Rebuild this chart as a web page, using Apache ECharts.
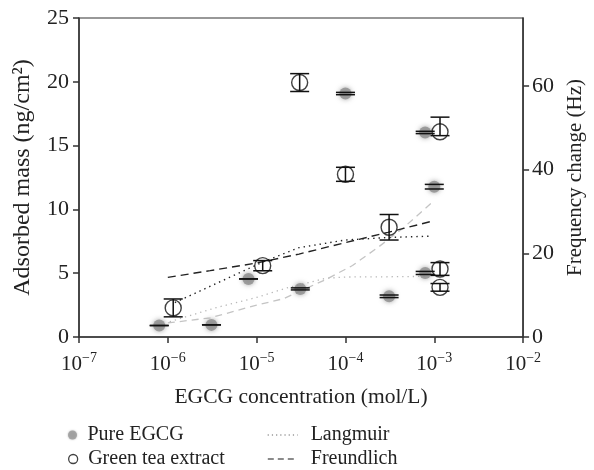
<!DOCTYPE html>
<html>
<head>
<meta charset="utf-8">
<script src="https://cdn.jsdelivr.net/npm/echarts@6/dist/echarts.min.js"></script>
<style>html,body{margin:0;padding:0;background:#fff}#c{width:594px;height:470px}</style>
</head>
<body>
<div id="c"></div>
<script>
// ---- data ----
const xTickExp = [-7, -6, -5, -4, -3, -2];
const yLeftTicks = [0, 5, 10, 15, 20, 25];
const yRightTicks = [0, 20, 40, 60];

const pureConc = [8e-7, 3.1e-6, 8.1e-6, 3.1e-5, 1e-4, 3.1e-4, 7.9e-4, 7.9e-4, 1e-3];
const pureMass = [0.9, 0.95, 4.55, 3.77, 19.08, 3.19, 16.03, 5.02, 11.78];
const pureErr  = [0, 0, 0, 0.08, 0.09, 0.1, 0.09, 0.12, 0.18];

const gtConc = [1.15e-6, 1.17e-5, 3.05e-5, 1e-4, 3.1e-4, 1.16e-3, 1.16e-3, 1.16e-3];
const gtMass = [2.28, 5.59, 19.94, 12.75, 8.6, 16.08, 5.33, 3.89];
const gtErrUp   = [0.7, 0.4, 0.7, 0.55, 1.0, 1.15, 0.5, 0.3];
const gtErrDown = [0.7, 0.4, 0.7, 0.55, 1.0, 0.3, 0.5, 0.3];

const langGtConc = [1.2e-6, 1.2e-5, 3e-5, 1e-4, 3e-4, 9e-4];
const langGtVal  = [2.7, 5.9, 7.0, 7.6, 7.8, 7.9];
const freGtConc  = [1e-6, 3e-6, 1e-5, 3e-5, 1e-4, 3e-4, 1e-3];
const freGtVal   = [4.67, 5.2, 5.8, 6.5, 7.4, 8.2, 9.12];
const langPureConc = [1.05e-6, 3.5e-6, 1e-5, 2.2e-5, 6e-5, 1e-4, 3e-4, 8e-4];
const langPureVal  = [1.2, 2.3, 3.1, 3.85, 4.6, 4.7, 4.72, 4.75];
const frePureConc  = [1e-6, 3e-6, 1e-5, 2e-5, 6e-5, 1.2e-4, 2.3e-4, 4.4e-4, 1e-3];
const frePureVal   = [1.1, 1.5, 2.5, 3.0, 4.5, 5.6, 7.0, 8.5, 10.7];

// ---- chart ----
const FONT = 'Liberation Serif';
const TXT = '#222';
const zip = (a, b) => a.map((v, i) => [v, b[i]]);

function errBar(capHalf, showStem) {
  return function (params, api) {
    const x = api.value(0), y = api.value(1), up = api.value(2), dn = api.value(3);
    const t = api.coord([x, y + up]);
    const b = api.coord([x, y - dn]);
    const st = { stroke: '#111', lineWidth: 1.5 };
    const ch = [
      { type: 'line', shape: { x1: t[0] - capHalf, y1: t[1], x2: t[0] + capHalf, y2: t[1] }, style: st },
      { type: 'line', shape: { x1: b[0] - capHalf, y1: b[1], x2: b[0] + capHalf, y2: b[1] }, style: st }
    ];
    if (showStem) ch.push({ type: 'line', shape: { x1: t[0], y1: t[1], x2: b[0], y2: b[1] }, style: st });
    return { type: 'group', children: ch };
  };
}

const legText = { fontFamily: FONT, fontSize: 20, color: TXT };
function leg(left, top, item, iw, extra) {
  return Object.assign({
    orient: 'horizontal', left: left, top: top, padding: 0,
    itemWidth: iw, itemHeight: 9, selectedMode: false,
    textStyle: legText, data: [item]
  }, extra || {});
}
const clear = { color: 'rgba(0,0,0,0)', borderColor: 'rgba(0,0,0,0)', borderWidth: 0 };

const chart = echarts.init(document.getElementById('c'), null, { renderer: 'canvas' });
chart.setOption({
  animation: false,
  backgroundColor: '#fff',
  textStyle: { fontFamily: FONT, color: TXT },
  grid: { left: 79, right: 67, top: 18, bottom: 133, show: true, borderColor: '#333', borderWidth: 1.2 },
  legend: [
    leg(68, 425, { name: 'Pure EGCG', icon: 'circle', itemStyle: { color: '#9a9a9a', borderWidth: 0, shadowBlur: 2, shadowColor: '#aaa' } }, 20),
    leg(68, 449, { name: 'Green tea extract', icon: 'circle', itemStyle: { color: '#fff', borderColor: '#111', borderWidth: 1.3 } }, 20),
    leg(267, 425, { name: 'Langmuir', itemStyle: clear, lineStyle: { color: '#999', type: [1.2, 3], width: 1.3 } }, 30,
        { textStyle: Object.assign({}, legText, { padding: [0, 0, 0, 8] }) }),
    leg(267, 449, { name: 'Freundlich', itemStyle: clear, lineStyle: { color: '#666', type: [6, 4], width: 1.6 } }, 30,
        { textStyle: Object.assign({}, legText, { padding: [0, 0, 0, 8] }) })
  ],
  xAxis: {
    type: 'log', logBase: 10, min: 1e-7, max: 1e-2,
    name: 'EGCG concentration (mol/L)', nameLocation: 'middle', nameGap: 49,
    nameTextStyle: { fontFamily: FONT, fontSize: 21.5, color: TXT },
    axisLine: { lineStyle: { color: '#333', width: 1.5 } },
    axisTick: { show: true, length: 6, lineStyle: { color: '#333', width: 1.5 } },
    minorTick: { show: false },
    splitLine: { show: false },
    axisLabel: {
      margin: 14,
      formatter: function (v) {
        const e = Math.round(Math.log10(v));
        if (xTickExp.indexOf(e) < 0) return '';
        return '{b|10}{s|\u2212' + Math.abs(e) + '}';
      },
      rich: {
        b: { fontFamily: FONT, fontSize: 21, color: TXT, lineHeight: 24, verticalAlign: 'bottom' },
        s: { fontFamily: FONT, fontSize: 14, color: TXT, lineHeight: 14, verticalAlign: 'top' }
      }
    }
  },
  yAxis: [
    {
      type: 'value', min: 0, max: 25, interval: 5,
      name: 'Adsorbed mass (ng/cm\u00B2)', nameLocation: 'middle', nameGap: 44, nameRotate: 90,
      nameTextStyle: { fontFamily: FONT, fontSize: 24, color: TXT },
      axisLine: { show: true, lineStyle: { color: '#333', width: 1.5 } },
      axisTick: { show: true, length: 6, lineStyle: { color: '#333', width: 1.5 } },
      splitLine: { show: false },
      axisLabel: { margin: 10, fontFamily: FONT, fontSize: 22, color: TXT }
    },
    {
      type: 'value', min: 0, max: 76.2, position: 'right',
      name: 'Frequency change (Hz)', nameLocation: 'middle', nameGap: 40, nameRotate: 90,
      nameTextStyle: { fontFamily: FONT, fontSize: 21, color: TXT },
      axisLine: { show: true, lineStyle: { color: '#333', width: 1.5 } },
      axisTick: { show: true, length: 6, customValues: yRightTicks, lineStyle: { color: '#333', width: 1.5 } },
      splitLine: { show: false },
      axisLabel: { margin: 9, fontFamily: FONT, fontSize: 22, color: TXT, customValues: yRightTicks }
    }
  ],
  series: [
    { name: 'Freundlich', type: 'line', data: zip(frePureConc, frePureVal), symbol: 'none',
      lineStyle: { color: '#c4c4c4', width: 1.3, type: [7, 5] }, z: 2 },
    { name: 'Langmuir', type: 'line', data: zip(langPureConc, langPureVal), symbol: 'none',
      lineStyle: { color: '#b8b8b8', width: 1.3, type: [1.3, 4] }, z: 2 },
    { name: 'Langmuir', type: 'line', data: zip(langGtConc, langGtVal), symbol: 'none',
      lineStyle: { color: '#222', width: 1.4, type: [1.4, 4] }, z: 2 },
    { name: 'Freundlich', type: 'line', data: zip(freGtConc, freGtVal), symbol: 'none',
      lineStyle: { color: '#222', width: 1.4, type: [8, 5] }, z: 2 },
    { name: 'Pure EGCG', type: 'scatter', data: zip(pureConc, pureMass), symbol: 'circle', symbolSize: 12,
      itemStyle: { color: '#8f8f8f', shadowBlur: 5, shadowColor: 'rgba(130,130,130,0.9)' }, z: 3 },
    { name: 'pureErr', type: 'custom', data: pureConc.map((c, i) => [c, pureMass[i], pureErr[i], pureErr[i]]),
      renderItem: errBar(9.5, false), encode: { x: 0, y: 1 }, z: 4 },
    { name: 'Green tea extract', type: 'scatter', data: zip(gtConc, gtMass), symbol: 'circle', symbolSize: 16,
      itemStyle: { color: 'rgba(255,255,255,0)', borderColor: '#111', borderWidth: 1.4 }, z: 5 },
    { name: 'gtErr', type: 'custom', data: gtConc.map((c, i) => [c, gtMass[i], gtErrUp[i], gtErrDown[i]]),
      renderItem: errBar(9.5, true), encode: { x: 0, y: 1 }, z: 6 }
  ]
});
</script>
</body>
</html>
